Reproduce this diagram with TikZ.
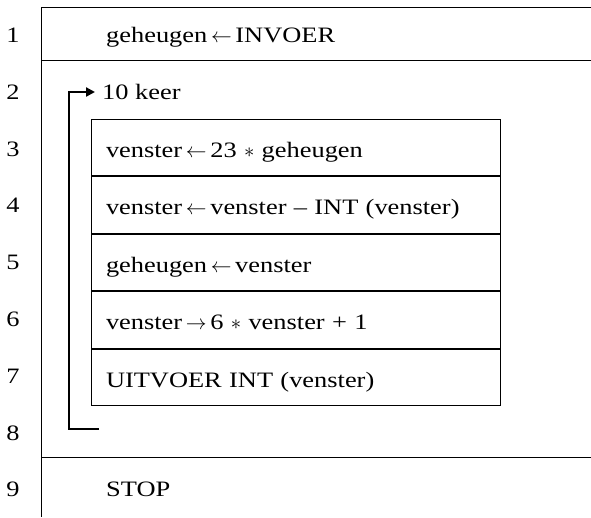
\documentclass[tikz,border=0pt]{standalone}
\usepackage{fontspec}
\setmainfont[FakeStretch=1.2]{Liberation Serif}
\usetikzlibrary{arrows.meta}

\begin{document}
\begin{tikzpicture}[
x=1pt,y=-1pt,
every node/.style={
    font=\fontsize{22}{26}\selectfont,
    text height=23pt,
    text depth=3.8pt,
    inner sep=0pt
},
num/.style={anchor=center},
txt/.style={anchor=west},
cell/.style={
    draw,
    line width=0.7pt,
    minimum height=56.8pt,
    text width=379pt,
    inner xsep=15pt,
    align=left
},
frame/.style={line width=0.7pt},
repline/.style={line width=2.2pt,-{Triangle[length=9pt,width=9pt]}}
]
\useasboundingbox (0,0) rectangle (591,517);

%---------------- Row numbers ----------------
\foreach \i in {1,...,9}{
    \node[num] (n\i) at (13,{32.8+56.8*(\i-1)}) {\i};
}

%---------------- Outer frame ----------------
\draw[frame] (591,7) -- (41,7) -- (41,517);
\draw[frame] (41,60) -- (591,60);
\draw[frame] (41,457) -- (591,457);

\node[txt] (invoer) at (106,32.8) {geheugen\,$\leftarrow$\,INVOER};
\node[txt,inner xsep=7pt,text height=14pt,text depth=0pt] (keer) at (95,92) {10 keer};
\node[txt] (stop) at (106,487.2) {STOP};

%---------------- Loop body ----------------
\node[cell] (r3) at (295.5,147.4) {venster\,$\leftarrow$\,23 $\ast$ geheugen};
\node[cell,anchor=north] (r4) at (r3.south) {venster\,$\leftarrow$\,venster -- INT (venster)};
\node[cell,anchor=north] (r5) at (r4.south) {geheugen\,$\leftarrow$\,venster};
\node[cell,anchor=north] (r6) at (r5.south) {venster\,$\rightarrow$\,6 $\ast$ venster + 1};
\node[cell,anchor=north] (r7) at (r6.south) {UITVOER INT (venster)};

\coordinate (eind) at (99,429);
\draw[repline] (eind) -- (69,429) |- (keer.west);

\end{tikzpicture}
\end{document}
